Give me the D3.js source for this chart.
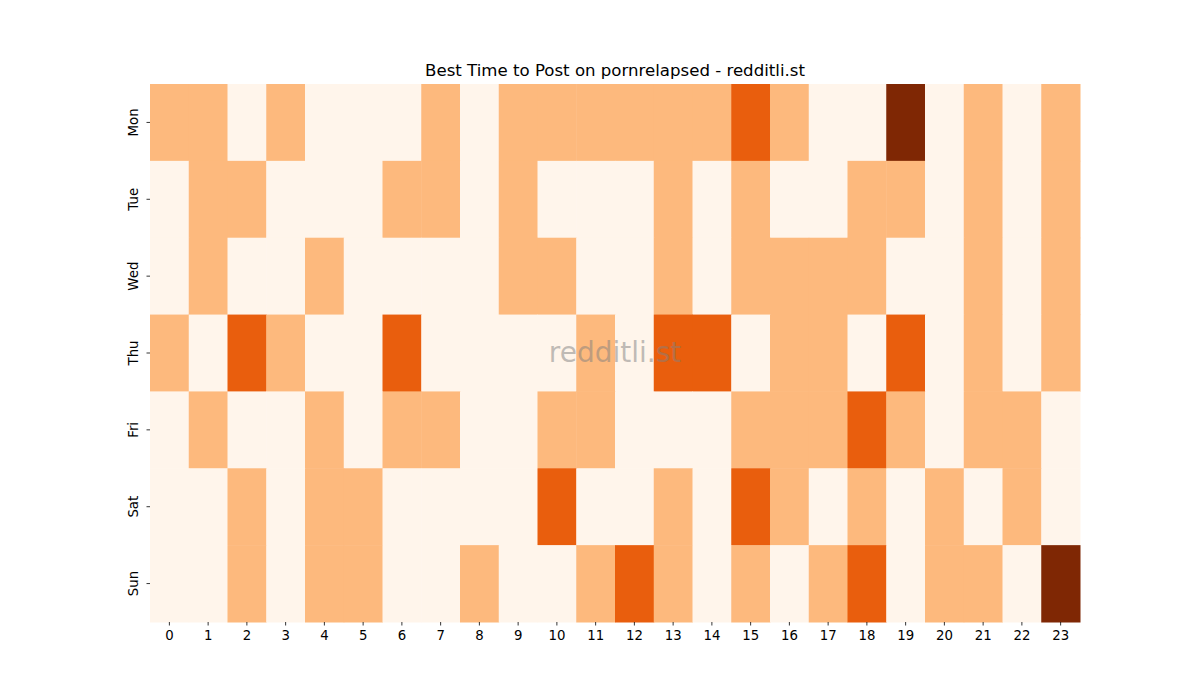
<!DOCTYPE html>
<html>
<head>
<meta charset="utf-8">
<script src="https://cdn.jsdelivr.net/npm/d3@7"></script>
<style>
  body { margin: 0; background: #fff; }
  text { font-family: "DejaVu Sans", sans-serif; }
</style>
</head>
<body>
<svg width="1200" height="700"></svg>
<script>
var days = ["Mon", "Tue", "Wed", "Thu", "Fri", "Sat", "Sun"];
var hours = d3.range(24);

// activity level per hour, one row per day (0 = low ... 3 = best)
var mon = [1,1,0,1,0,0,0,1,0,1,1,1,1,1,1,2,1,0,0,3,0,1,0,1];
var tue = [0,1,1,0,0,0,1,1,0,1,0,0,0,1,0,1,0,0,1,1,0,1,0,1];
var wed = [0,1,0,0,1,0,0,0,0,1,1,0,0,1,0,1,1,1,1,0,0,1,0,1];
var thu = [1,0,2,1,0,0,2,0,0,0,0,1,0,2,2,0,1,1,0,2,0,1,0,1];
var fri = [0,1,0,0,1,0,1,1,0,0,1,1,0,0,0,1,1,1,2,1,0,1,1,0];
var sat = [0,0,1,0,1,1,0,0,0,0,2,0,0,1,0,2,1,0,1,0,1,0,1,0];
var sun = [0,0,1,0,1,1,0,0,1,0,0,1,2,1,0,1,0,1,2,0,1,1,0,3];
var rows = [mon, tue, wed, thu, fri, sat, sun];

var svg = d3.select("svg");

var x = d3.scaleBand().domain(hours).range([150, 1080]);
var y = d3.scaleBand().domain(days).range([84, 622]);
var color = d3.scaleOrdinal()
    .domain([0, 1, 2, 3])
    .range(["#fff5eb", "#fdb97d", "#e95e0d", "#7f2704"]);

var cells = [];
rows.forEach(function(r, i){
    r.forEach(function(v, h){ cells.push({day: days[i], hour: h, value: v}); });
});

svg.append("g")
    .selectAll("rect")
    .data(cells)
    .enter()
    .append("rect")
      .attr("x", function(d){ return x(d.hour) })
      .attr("y", function(d){ return y(d.day) })
      .attr("width", x.bandwidth() + 0.5)
      .attr("height", y.bandwidth() + 0.5)
      .attr("fill", function(d){ return color(d.value) })

// axes
var xAxis = svg.append("g")
    .attr("transform", "translate(0,622)")
    .call(d3.axisBottom(x).tickSize(3.5).tickPadding(5));
var yAxis = svg.append("g")
    .attr("transform", "translate(150,0)")
    .call(d3.axisLeft(y).tickSize(3.5).tickPadding(5));

[xAxis, yAxis].forEach(function(a){
    a.select(".domain").remove();
    a.selectAll("line").attr("stroke", "#000").attr("stroke-width", 0.8);
    a.selectAll("text").attr("font-size", 13.3).attr("fill", "#000")
        .attr("font-family", "DejaVu Sans");
});

yAxis.selectAll(".tick text")
    .attr("text-anchor", "middle")
    .attr("dy", 0)
    .attr("x", 0)
    .attr("transform", "translate(-12,0) rotate(-90)")
    .attr("dominant-baseline", "auto");

// title
svg.append("text")
    .attr("x", 615)
    .attr("y", 76)
    .attr("text-anchor", "middle")
    .attr("font-size", 16.6)
    .text("Best Time to Post on pornrelapsed - redditli.st");

// watermark
svg.append("text")
    .attr("x", 615)
    .attr("y", 362)
    .attr("text-anchor", "middle")
    .attr("font-size", 28)
    .attr("fill", "#808080")
    .attr("fill-opacity", 0.5)
    .text("redditli.st");
</script>
</body>
</html>
